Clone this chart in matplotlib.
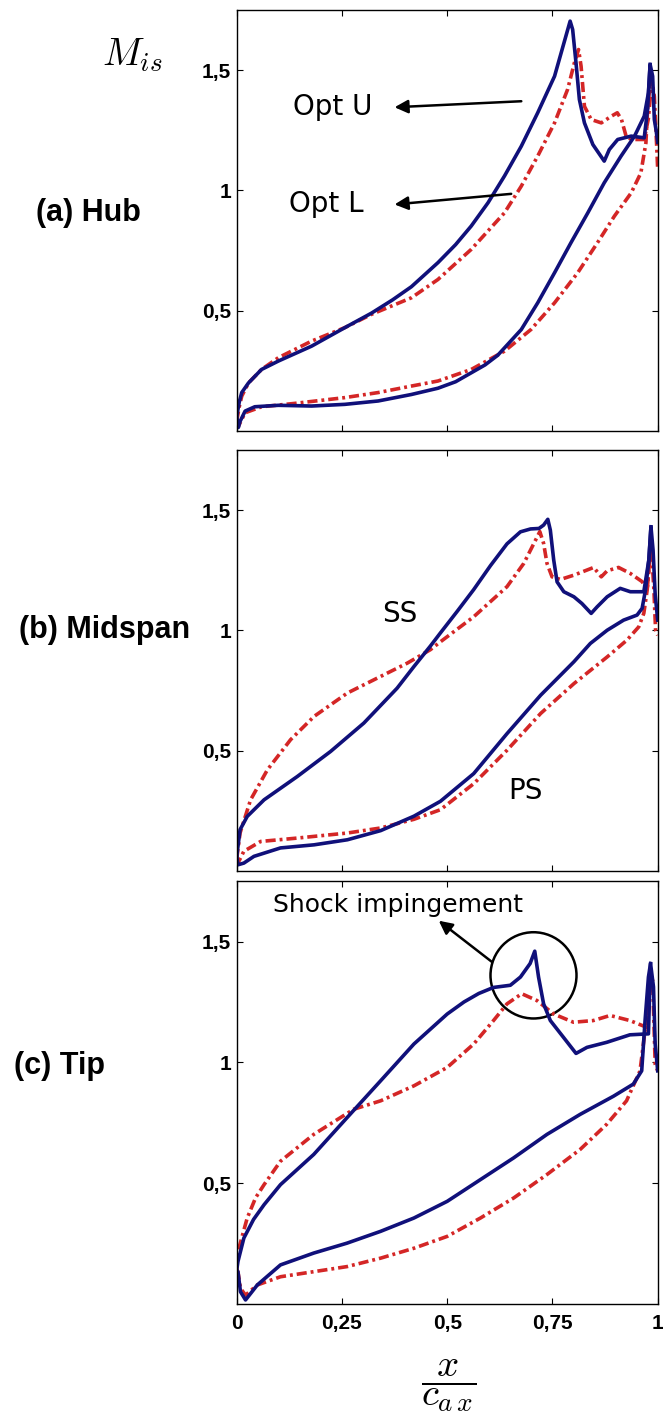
import matplotlib
matplotlib.use('Agg')
import matplotlib.pyplot as plt
from matplotlib.patches import Ellipse

plt.rcParams['mathtext.fontset'] = 'cm'

# ---- (a) Hub ----
hub_blue_ss_x = [0.0, 0.006, 0.012, 0.028, 0.059, 0.099, 0.178, 0.257, 0.32, 0.37, 0.415, 0.478, 0.52, 0.557,
                 0.597, 0.636, 0.676, 0.715, 0.755, 0.792, 0.798, 0.806, 0.814, 0.826, 0.846, 0.873, 0.885,
                 0.905, 0.937, 0.968, 0.976, 0.982, 0.988, 0.992, 0.996, 1.0]
hub_blue_ss_y = [0.06, 0.12, 0.16, 0.2, 0.256, 0.291, 0.353, 0.43, 0.49, 0.545, 0.6, 0.70, 0.775, 0.852,
                 0.949, 1.06, 1.184, 1.323, 1.475, 1.704, 1.669, 1.53, 1.378, 1.281, 1.191, 1.122, 1.17,
                 1.212, 1.226, 1.219, 1.337, 1.524, 1.475, 1.295, 1.253, 1.2]
hub_blue_ps_x = [0.0, 0.004, 0.008, 0.02, 0.043, 0.099, 0.178, 0.257, 0.336, 0.415, 0.478, 0.52, 0.557,
                 0.59, 0.62, 0.676, 0.715, 0.755, 0.794, 0.834, 0.873, 0.913, 0.945, 0.968, 0.978, 0.982]
hub_blue_ps_y = [0.06, 0.015, 0.04, 0.083, 0.101, 0.107, 0.104, 0.111, 0.125, 0.152, 0.178, 0.205, 0.242,
                 0.275, 0.315, 0.422, 0.533, 0.658, 0.783, 0.907, 1.032, 1.143, 1.226, 1.309, 1.406, 1.524]
hub_red_ss_x = [0.0, 0.006, 0.012, 0.028, 0.059, 0.099, 0.178, 0.257, 0.32, 0.415, 0.478, 0.557, 0.636,
                0.676, 0.715, 0.755, 0.786, 0.802, 0.812, 0.818, 0.826, 0.842, 0.866, 0.89, 0.904, 0.914,
                0.926, 0.945, 0.968, 0.978, 0.986, 0.992, 0.998, 1.0]
hub_red_ss_y = [0.04, 0.1, 0.145, 0.2, 0.256, 0.305, 0.374, 0.43, 0.485, 0.554, 0.63, 0.755, 0.907,
                1.018, 1.143, 1.281, 1.42, 1.53, 1.586, 1.517, 1.35, 1.295, 1.281, 1.309, 1.323, 1.295,
                1.219, 1.212, 1.212, 1.3, 1.461, 1.392, 1.17, 1.087]
hub_red_ps_x = [0.0, 0.004, 0.02, 0.059, 0.138, 0.257, 0.336, 0.415, 0.478, 0.557, 0.636, 0.699, 0.755,
                0.81, 0.857, 0.897, 0.937, 0.96, 0.972, 0.976, 0.983]
hub_red_ps_y = [0.04, 0.02, 0.076, 0.101, 0.115, 0.139, 0.16, 0.187, 0.208, 0.256, 0.332, 0.422, 0.533,
                0.658, 0.783, 0.893, 0.99, 1.073, 1.198, 1.337, 1.461]

# ---- (b) Midspan ----
mid_blue_ss_x = [0.0, 0.008, 0.025, 0.065, 0.144, 0.223, 0.302, 0.381, 0.421, 0.46, 0.484, 0.524, 0.563,
                 0.603, 0.642, 0.674, 0.698, 0.718, 0.729, 0.739, 0.745, 0.753, 0.761, 0.777, 0.801, 0.82,
                 0.842, 0.856, 0.88, 0.911, 0.935, 0.967, 0.979, 0.984, 0.989, 0.994, 1.0]
mid_blue_ss_y = [0.06, 0.172, 0.227, 0.296, 0.393, 0.497, 0.615, 0.76, 0.85, 0.935, 0.99, 1.08, 1.17,
                 1.27, 1.36, 1.41, 1.422, 1.424, 1.438, 1.462, 1.417, 1.293, 1.202, 1.161, 1.14, 1.112,
                 1.071, 1.098, 1.14, 1.175, 1.161, 1.161, 1.293, 1.431, 1.334, 1.15, 1.043]
mid_blue_ps_x = [0.0, 0.003, 0.017, 0.041, 0.104, 0.184, 0.263, 0.342, 0.421, 0.484, 0.563, 0.642, 0.722,
                 0.801, 0.84, 0.88, 0.919, 0.951, 0.963, 0.971, 0.979, 0.984]
mid_blue_ps_y = [0.06, 0.026, 0.033, 0.061, 0.096, 0.109, 0.13, 0.168, 0.228, 0.29, 0.405, 0.571, 0.731,
                 0.87, 0.946, 1.001, 1.043, 1.064, 1.092, 1.168, 1.293, 1.431]
mid_red_ss_x = [0.0, 0.008, 0.033, 0.073, 0.128, 0.184, 0.263, 0.342, 0.405, 0.46, 0.484, 0.563, 0.642,
                0.682, 0.71, 0.72, 0.729, 0.737, 0.749, 0.769, 0.801, 0.848, 0.866, 0.88, 0.907, 0.935,
                0.963, 0.975, 0.981, 0.985, 0.991, 0.995, 1.0]
mid_red_ss_y = [0.05, 0.158, 0.296, 0.421, 0.546, 0.643, 0.74, 0.809, 0.864, 0.92, 0.953, 1.057, 1.182,
                1.279, 1.376, 1.411, 1.362, 1.279, 1.223, 1.212, 1.23, 1.262, 1.223, 1.248, 1.262, 1.237,
                1.203, 1.168, 1.293, 1.341, 1.168, 1.001, 0.98]
mid_red_ps_x = [0.0, 0.003, 0.017, 0.057, 0.144, 0.263, 0.342, 0.421, 0.484, 0.563, 0.642, 0.722, 0.801,
                0.88, 0.927, 0.955, 0.967, 0.975, 0.981, 0.985]
mid_red_ps_y = [0.05, 0.033, 0.082, 0.123, 0.137, 0.158, 0.179, 0.215, 0.255, 0.363, 0.502, 0.655, 0.779,
                0.89, 0.96, 1.015, 1.071, 1.168, 1.293, 1.341]

# ---- (c) Tip ----
tip_blue_ss_x = [0.0, 0.003, 0.017, 0.04, 0.065, 0.104, 0.183, 0.262, 0.342, 0.421, 0.5, 0.54, 0.575, 0.61,
                 0.65, 0.674, 0.697, 0.708, 0.717, 0.729, 0.745, 0.776, 0.806, 0.832, 0.879, 0.934, 0.978,
                 0.983, 0.99, 0.994, 1.0]
tip_blue_ss_y = [0.14, 0.176, 0.273, 0.35, 0.411, 0.494, 0.619, 0.771, 0.924, 1.076, 1.2, 1.25, 1.285, 1.31,
                 1.319, 1.353, 1.409, 1.46, 1.353, 1.242, 1.173, 1.104, 1.037, 1.062, 1.083, 1.114, 1.118,
                 1.409, 1.312, 1.076, 0.965]
tip_blue_ps_x = [0.0, 0.003, 0.009, 0.021, 0.049, 0.104, 0.183, 0.262, 0.342, 0.421, 0.5, 0.579, 0.658,
                 0.737, 0.816, 0.895, 0.942, 0.962, 0.97, 0.978, 0.983]
tip_blue_ps_y = [0.14, 0.134, 0.051, 0.017, 0.079, 0.162, 0.211, 0.252, 0.301, 0.356, 0.425, 0.515, 0.605,
                 0.702, 0.785, 0.86, 0.91, 0.965, 1.173, 1.353, 1.409]
tip_red_ss_x = [0.0, 0.003, 0.025, 0.045, 0.065, 0.104, 0.183, 0.278, 0.342, 0.421, 0.5, 0.563, 0.61, 0.642,
                0.677, 0.713, 0.753, 0.8, 0.847, 0.887, 0.934, 0.974, 0.982, 0.988, 0.994, 1.0]
tip_red_ss_y = [0.14, 0.217, 0.356, 0.44, 0.494, 0.591, 0.702, 0.806, 0.841, 0.903, 0.979, 1.076, 1.173,
                1.242, 1.284, 1.256, 1.2, 1.166, 1.173, 1.194, 1.173, 1.145, 1.339, 1.339, 0.993, 0.965]
tip_red_ps_x = [0.0, 0.003, 0.009, 0.021, 0.049, 0.104, 0.183, 0.262, 0.342, 0.421, 0.5, 0.579, 0.658,
                0.737, 0.816, 0.879, 0.926, 0.958, 0.97, 0.978, 0.982]
tip_red_ps_y = [0.14, 0.134, 0.065, 0.037, 0.079, 0.113, 0.134, 0.155, 0.19, 0.231, 0.28, 0.356, 0.439,
                0.536, 0.64, 0.744, 0.841, 0.965, 1.132, 1.27, 1.339]

x_ticks = [0, 0.25, 0.5, 0.75, 1]
x_tick_labels = ['0', '0,25', '0,5', '0,75', '1']
y_ticks = [0.5, 1, 1.5]
y_tick_labels = ['0,5', '1', '1,5']
panel_names = ['(a) Hub', '(b) Midspan', '(c) Tip']

blue = '#10107a'
red = '#d42626'
dashdot = (0, (2.8, 1.1, 0.8, 1.1))
tick_font = dict(family='Liberation Sans', weight='bold', size=15)
lw = 2.6

fig = plt.figure(figsize=(6.63, 14.17), dpi=100)
rects = [[0.357, 0.6958, 0.635, 0.2971],
         [0.357, 0.3853, 0.635, 0.2971],
         [0.357, 0.0797, 0.635, 0.2985]]
curves = [
    (hub_blue_ss_x, hub_blue_ss_y, hub_blue_ps_x, hub_blue_ps_y,
     hub_red_ss_x, hub_red_ss_y, hub_red_ps_x, hub_red_ps_y),
    (mid_blue_ss_x, mid_blue_ss_y, mid_blue_ps_x, mid_blue_ps_y,
     mid_red_ss_x, mid_red_ss_y, mid_red_ps_x, mid_red_ps_y),
    (tip_blue_ss_x, tip_blue_ss_y, tip_blue_ps_x, tip_blue_ps_y,
     tip_red_ss_x, tip_red_ss_y, tip_red_ps_x, tip_red_ps_y),
]
axes = []
for i, (rect, c) in enumerate(zip(rects, curves)):
    ax = fig.add_axes(rect)
    bsx, bsy, bpx, bpy, rsx, rsy, rpx, rpy = c
    ax.plot(rsx, rsy, color=red, lw=lw, ls=dashdot)
    ax.plot(rpx, rpy, color=red, lw=lw, ls=dashdot)
    ax.plot(bsx, bsy, color=blue, lw=lw, solid_joinstyle='round')
    ax.plot(bpx, bpy, color=blue, lw=lw, solid_joinstyle='round')
    ax.set_xlim(0, 1)
    ax.set_ylim(0, 1.75)
    ax.set_xticks(x_ticks)
    ax.set_yticks(y_ticks)
    ax.set_yticklabels(y_tick_labels, fontdict=tick_font)
    if i == 2:
        ax.set_xticklabels(x_tick_labels, fontdict=tick_font)
    else:
        ax.set_xticklabels([])
    ax.tick_params(direction='in', top=True, right=True, length=4, width=0.8, pad=4)
    ax.tick_params(axis='x', pad=7)
    for s in ax.spines.values():
        s.set_linewidth(1.0)
    axes.append(ax)

label_pos = [(0.134, 0.850), (0.158, 0.5554), (0.089, 0.2477)]
for name, (fx, fy) in zip(panel_names, label_pos):
    fig.text(fx, fy, name, ha='center', va='center', family='Liberation Sans',
             weight='bold', size=22)

fig.text(0.199, 0.961, r'$M_{is}$', ha='center', va='center', size=28)
fig.text(0.676, 0.0225, r'$\dfrac{x}{c_{a\,x}}$', ha='center', va='center', size=28)

arrow = dict(arrowstyle='-|>', color='k', lw=1.8, mutation_scale=20, shrinkA=0, shrinkB=0)
ax1, ax2, ax3 = axes
ax1.annotate('', xy=(0.375, 1.346), xytext=(0.676, 1.371), arrowprops=arrow)
ax1.annotate('', xy=(0.375, 0.942), xytext=(0.652, 0.986), arrowprops=arrow)
ax1.text(0.227, 1.312, 'Opt U', ha='center', va='baseline', size=20)
ax1.text(0.213, 0.91, 'Opt L', ha='center', va='baseline', size=20)

ax2.text(0.387, 1.037, 'SS', ha='center', va='baseline', size=20)
ax2.text(0.686, 0.299, 'PS', ha='center', va='baseline', size=20)

ax3.text(0.383, 1.623, 'Shock impingement', ha='center', va='baseline', size=18)
ax3.annotate('', xy=(0.48, 1.586), xytext=(0.606, 1.416), arrowprops=arrow)
ax3.add_patch(Ellipse((0.705, 1.36), 2 * 43 / 421, 2 * 43 / 241, fill=False, ec='k', lw=1.8))

fig.savefig('out.png', dpi=100)
